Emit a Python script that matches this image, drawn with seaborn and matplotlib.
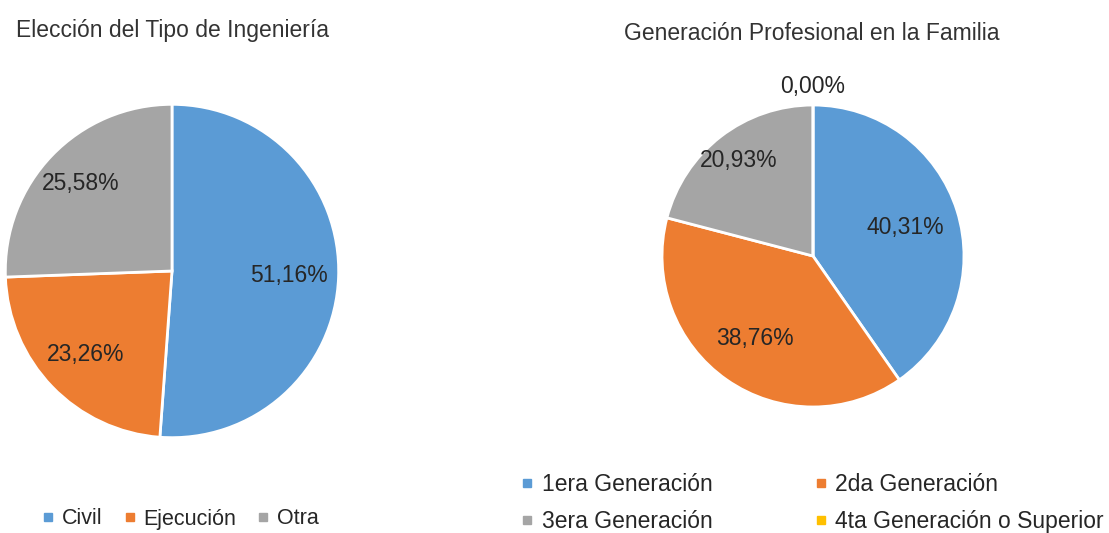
import matplotlib
matplotlib.use("Agg")
import matplotlib.pyplot as plt
from matplotlib.lines import Line2D
import numpy as np
import seaborn as sns

sns.set_theme(style="white")
plt.rcParams['font.family'] = ['Liberation Sans', 'DejaVu Sans']

# Data
left_title = "Elección del Tipo de Ingeniería"
left_labels = ["Civil", "Ejecución", "Otra"]
left_values = [51.16, 23.26, 25.58]

right_title = "Generación Profesional en la Familia"
right_labels = ["1era Generación", "2da Generación", "3era Generación", "4ta Generación o Superior"]
right_values = [40.31, 38.76, 20.93, 0.00]

palette = sns.color_palette(["#5B9BD5", "#ED7D31", "#A5A5A5", "#FFC000"])

W, H = 1109, 533
fig = plt.figure(figsize=(W / 100, H / 100), dpi=100)
fig.patch.set_facecolor("white")


def pix_axes(cx, cy, r):
    return fig.add_axes([(cx - r) / W, 1 - (cy + r) / H, 2 * r / W, 2 * r / H])


def fmt(v):
    return f"{v:.2f}%".replace(".", ",")


def draw_pie(ax, values, colors, dists):
    wedges, _ = ax.pie(values, colors=colors, startangle=90, counterclock=False,
                       radius=1.0, normalize=True,
                       wedgeprops=dict(edgecolor="white", linewidth=2))
    for w, v, d in zip(wedges, values, dists):
        ang = np.deg2rad((w.theta1 + w.theta2) / 2)
        ax.text(d * np.cos(ang), d * np.sin(ang), fmt(v), ha="center", va="center",
                fontsize=16.5, color="#262626")
    ax.set_xlim(-1.02, 1.02)
    ax.set_ylim(-1.02, 1.02)
    ax.set_aspect("equal")
    ax.axis("off")
    return wedges


axL = pix_axes(172, 271, 170)
draw_pie(axL, left_values, palette[:3], [0.70, 0.72, 0.76])

axR = pix_axes(813, 256, 154)
draw_pie(axR, right_values, palette[:4], [0.64, 0.67, 0.80, 1.12])

fig.text(172 / W, 1 - 30 / H, left_title, ha="center", va="center", fontsize=16.5, color="#333333")
fig.text(812 / W, 1 - 34 / H, right_title, ha="center", va="center", fontsize=16.5, color="#333333")


def handles(colors):
    return [Line2D([], [], linestyle="none", marker="s", markersize=5.5,
                   markerfacecolor=c, markeredgecolor=c) for c in colors]


fig.legend(handles(palette[:3]), left_labels, loc="center", ncol=3,
           bbox_to_anchor=(181 / W, 1 - 519 / H), frameon=False, fontsize=15.5,
           handlelength=0.5, handletextpad=0.4, columnspacing=1.0, labelcolor="#262626")

# row-wise ordering: matplotlib fills columns first
order = [0, 2, 1, 3]
fig.legend([handles(palette[:4])[i] for i in order], [right_labels[i] for i in order],
           loc="center", ncol=2,
           bbox_to_anchor=(813 / W, 1 - 503 / H), frameon=False, fontsize=16.5,
           handlelength=0.45, handletextpad=0.4, columnspacing=4.5, labelspacing=0.65,
           labelcolor="#262626")

fig.savefig("out.png", dpi=100, facecolor="white")
